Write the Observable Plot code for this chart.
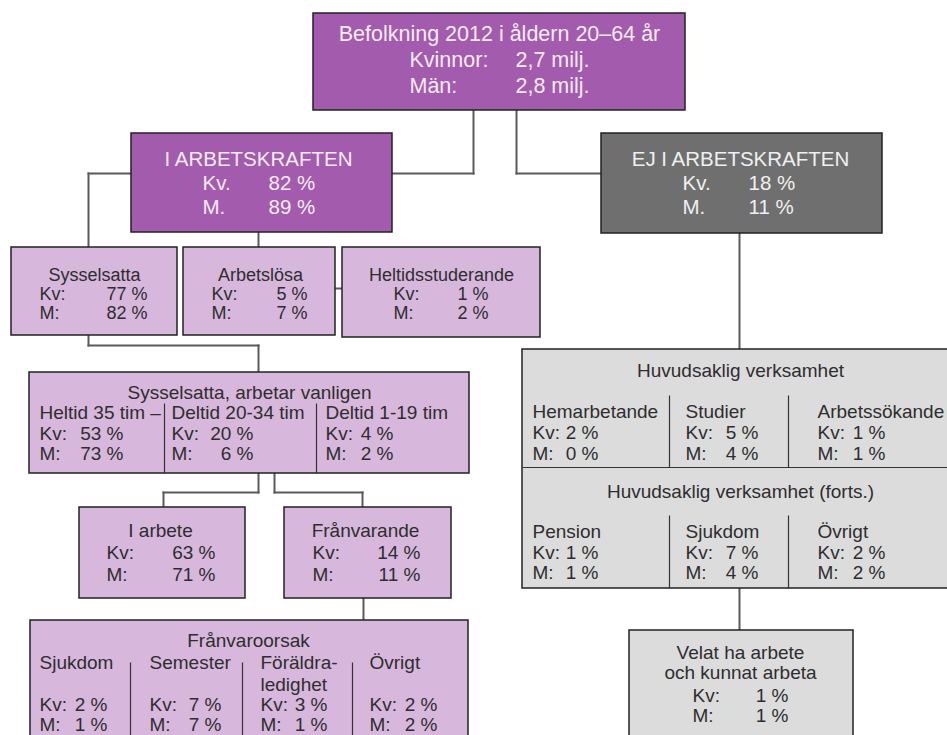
<!DOCTYPE html>
<html>
<head>
<meta charset="utf-8">
<script src="https://cdn.jsdelivr.net/npm/d3@7"></script>
<script src="https://cdn.jsdelivr.net/npm/@observablehq/plot@0.6"></script>
<style>
  html, body { margin: 0; padding: 0; background: #fff; overflow: hidden; }
</style>
</head>
<body>
<div id="chart"></div>
<script>
// ---------------- data ----------------
const populationTitle = "Befolkning 2012 i åldern 20–64 år";
const populationLabels = ["Kvinnor:", "Män:"];
const populationMillions = [2.7, 2.8];

const statusNames = ["I ARBETSKRAFTEN", "EJ I ARBETSKRAFTEN"];
const statusKv = [82, 18];
const statusM = [89, 11];

const laborNames = ["Sysselsatta", "Arbetslösa", "Heltidsstuderande"];
const laborKv = [77, 5, 1];
const laborM = [82, 7, 2];

const hoursTitle = "Sysselsatta, arbetar vanligen";
const hoursNames = ["Heltid 35 tim –", "Deltid 20-34 tim", "Deltid 1-19 tim"];
const hoursKv = [53, 20, 4];
const hoursM = [73, 6, 2];

const workNames = ["I arbete", "Frånvarande"];
const workKv = [63, 14];
const workM = [71, 11];

const absenceTitle = "Frånvaroorsak";
const absenceNames = [["Sjukdom"], ["Semester"], ["Föräldra-", "ledighet"], ["Övrigt"]];
const absenceKv = [2, 7, 3, 2];
const absenceM = [1, 7, 1, 2];

const activityTitles = ["Huvudsaklig verksamhet", "Huvudsaklig verksamhet (forts.)"];
const activityNames = ["Hemarbetande", "Studier", "Arbetssökande", "Pension", "Sjukdom", "Övrigt"];
const activityKv = [2, 5, 1, 1, 7, 2];
const activityM = [0, 4, 1, 1, 4, 2];

const wantTitle = ["Velat ha arbete", "och kunnat arbeta"];
const wantKv = [1];
const wantM = [1];

// ---------------- styles & layout ----------------
const PURPLE = "#a35bad";
const LILAC = "#d7b7dc";
const DARKGRAY = "#6f6f6f";
const LIGHTGRAY = "#dcdcdc";
const TXT_DARKBOX = "#f6ecf6";
const TXT_GRAYBOX = "#f0f0f0";
const TXT = "#2e2e2e";
const W = 947, H = 735;

const pct = v => `${v} %`;
const milj = v => `${String(v).replace(".", ",")} milj.`;

const boxes = [], texts = [], links = [], dividers = [];
const box = (x1, y1, x2, y2, fill) => boxes.push({x1, y1, x2, y2, fill});
const txt = (x, y, text, anchor, size, color) => texts.push({x, y, text, anchor, size, color});
const seg = (x1, y1, x2, y2) => links.push({x1, y1, x2, y2});
const div = (x1, y1, x2, y2) => dividers.push({x1, y1, x2, y2});

// top box
box(313, 13, 685, 110, PURPLE);
txt(499, 34, populationTitle, "middle", 21.5, TXT_DARKBOX);
[60, 86].forEach((y, i) => {
  txt(409, y, populationLabels[i], "start", 21.5, TXT_DARKBOX);
  txt(515, y, milj(populationMillions[i]), "start", 21.5, TXT_DARKBOX);
});

// status boxes
const statusLayout = [
  {b: [131, 133, 392, 232], cx: 258, lx: 202, vx: 268, fill: PURPLE, color: TXT_DARKBOX},
  {b: [601, 133, 882, 233], cx: 740, lx: 682, vx: 748, fill: DARKGRAY, color: TXT_GRAYBOX}
];
statusLayout.forEach((s, i) => {
  box(...s.b, s.fill);
  txt(s.cx, 159, statusNames[i], "middle", 20.5, s.color);
  txt(s.lx, 183, "Kv.", "start", 20.5, s.color);
  txt(s.vx, 183, pct(statusKv[i]), "start", 20.5, s.color);
  txt(s.lx, 207, "M.", "start", 20.5, s.color);
  txt(s.vx, 207, pct(statusM[i]), "start", 20.5, s.color);
});

// labor force boxes
const laborLayout = [
  {b: [11, 247, 177, 335], cx: 94, lx: 39, vx: 147},
  {b: [183, 247, 335, 335], cx: 260, lx: 211, vx: 307},
  {b: [342, 247, 540, 337], cx: 441, lx: 393, vx: 488}
];
laborLayout.forEach((s, i) => {
  box(...s.b, LILAC);
  txt(s.cx, 275, laborNames[i], "middle", 18, TXT);
  txt(s.lx, 294, "Kv:", "start", 18, TXT);
  txt(s.vx, 294, pct(laborKv[i]), "end", 18, TXT);
  txt(s.lx, 313, "M:", "start", 18, TXT);
  txt(s.vx, 313, pct(laborM[i]), "end", 18, TXT);
});

// hours box
box(29, 372, 469, 473, LILAC);
txt(249, 392, hoursTitle, "middle", 19, TXT);
const hoursLx = [39, 171, 325], hoursVx = [123, 253, 393];
hoursNames.forEach((n, i) => {
  txt(hoursLx[i], 412, n, "start", 19, TXT);
  txt(hoursLx[i], 433, "Kv:", "start", 19, TXT);
  txt(hoursVx[i], 433, pct(hoursKv[i]), "end", 19, TXT);
  txt(hoursLx[i], 453, "M:", "start", 19, TXT);
  txt(hoursVx[i], 453, pct(hoursM[i]), "end", 19, TXT);
});
[164, 316].forEach(x => div(x, 403, x, 473));

// work boxes
const workLayout = [
  {b: [79, 507, 245, 598], cx: 160, lx: 106, vx: 215},
  {b: [284, 507, 451, 598], cx: 365, lx: 312, vx: 420}
];
workLayout.forEach((s, i) => {
  box(...s.b, LILAC);
  txt(s.cx, 530, workNames[i], "middle", 19, TXT);
  txt(s.lx, 552, "Kv:", "start", 19, TXT);
  txt(s.vx, 552, pct(workKv[i]), "end", 19, TXT);
  txt(s.lx, 574, "M:", "start", 19, TXT);
  txt(s.vx, 574, pct(workM[i]), "end", 19, TXT);
});

// absence box
box(30, 620, 468, 760, LILAC);
txt(248, 640, absenceTitle, "middle", 19, TXT);
const absLx = [39, 149, 260, 369], absVx = [107, 221, 327, 437];
absenceNames.forEach((lines, i) => {
  lines.forEach((l, j) => txt(absLx[i], 662 + j * 22, l, "start", 19, TXT));
  txt(absLx[i], 704, "Kv:", "start", 19, TXT);
  txt(absVx[i], 704, pct(absenceKv[i]), "end", 19, TXT);
  txt(absLx[i], 724, "M:", "start", 19, TXT);
  txt(absVx[i], 724, pct(absenceM[i]), "end", 19, TXT);
});
[130, 242, 352].forEach(x => div(x, 662, x, 760));

// activity box
box(522, 349, 990, 588, LIGHTGRAY);
div(522, 467, 990, 467);
const actLx = [532, 685, 817], actVx = [598, 758, 885];
const actSections = [
  {title: 370, head: 411, kv: 432, m: 453, d1: 395, d2: 467},
  {title: 491, head: 531, kv: 552, m: 572, d1: 515, d2: 588}
];
actSections.forEach((s, k) => {
  txt(740, s.title, activityTitles[k], "middle", 19, TXT);
  [0, 1, 2].forEach(c => {
    const i = k * 3 + c;
    txt(actLx[c], s.head, activityNames[i], "start", 19, TXT);
    txt(actLx[c], s.kv, "Kv:", "start", 19, TXT);
    txt(actVx[c], s.kv, pct(activityKv[i]), "end", 19, TXT);
    txt(actLx[c], s.m, "M:", "start", 19, TXT);
    txt(actVx[c], s.m, pct(activityM[i]), "end", 19, TXT);
  });
  [669, 788].forEach(x => div(x, s.d1, x, s.d2));
});

// want-to-work box
box(629, 630, 853, 760, LIGHTGRAY);
wantTitle.forEach((l, j) => txt(740, 652 + j * 20, l, "middle", 19, TXT));
txt(692, 695, "Kv:", "start", 19, TXT);
txt(788, 695, pct(wantKv[0]), "end", 19, TXT);
txt(692, 715, "M:", "start", 19, TXT);
txt(788, 715, pct(wantM[0]), "end", 19, TXT);

// connectors
[[473,110,473,173],[392,173,473,173],
 [516,110,516,173],[516,173,601,173],
 [88,173,131,173],[88,173,88,247],
 [258,232,258,247],
 [335,288,342,288],
 [739,233,739,349],
 [88,335,88,345],[88,345,258,345],[258,345,258,372],
 [258,473,258,492],[163,492,258,492],[163,492,163,507],
 [274,473,274,492],[274,492,362,492],[362,492,362,507],
 [363,598,363,620],
 [739,588,739,630]].forEach(s => seg(...s));

// ---------------- plot ----------------
const font = "'Liberation Sans', Arial, Helvetica, sans-serif";
const textMark = anchor => Plot.text(texts.filter(d => d.anchor === anchor), {
  x: "x", y: "y", text: "text", fill: "color", fontSize: "size",
  textAnchor: anchor, lineAnchor: "middle", fontFamily: font
});

const chart = Plot.plot({
  width: W,
  height: H,
  margin: 0,
  x: {domain: [0, W], range: [0, W], axis: null},
  y: {domain: [0, H], range: [0, H], axis: null},
  color: {type: "identity"},
  style: {fontFamily: font, background: "#fff"},
  marks: [
    Plot.link(links, {x1: "x1", y1: "y1", x2: "x2", y2: "y2", stroke: "#5a5a5a", strokeWidth: 2, strokeLinecap: "square"}),
    Plot.rect(boxes, {x1: "x1", y1: "y1", x2: "x2", y2: "y2", fill: "fill", stroke: "#222", strokeWidth: 1.5}),
    Plot.link(dividers, {x1: "x1", y1: "y1", x2: "x2", y2: "y2", stroke: "#333", strokeWidth: 1.2}),
    textMark("start"),
    textMark("middle"),
    textMark("end")
  ]
});
document.getElementById("chart").appendChild(chart);
</script>
</body>
</html>
